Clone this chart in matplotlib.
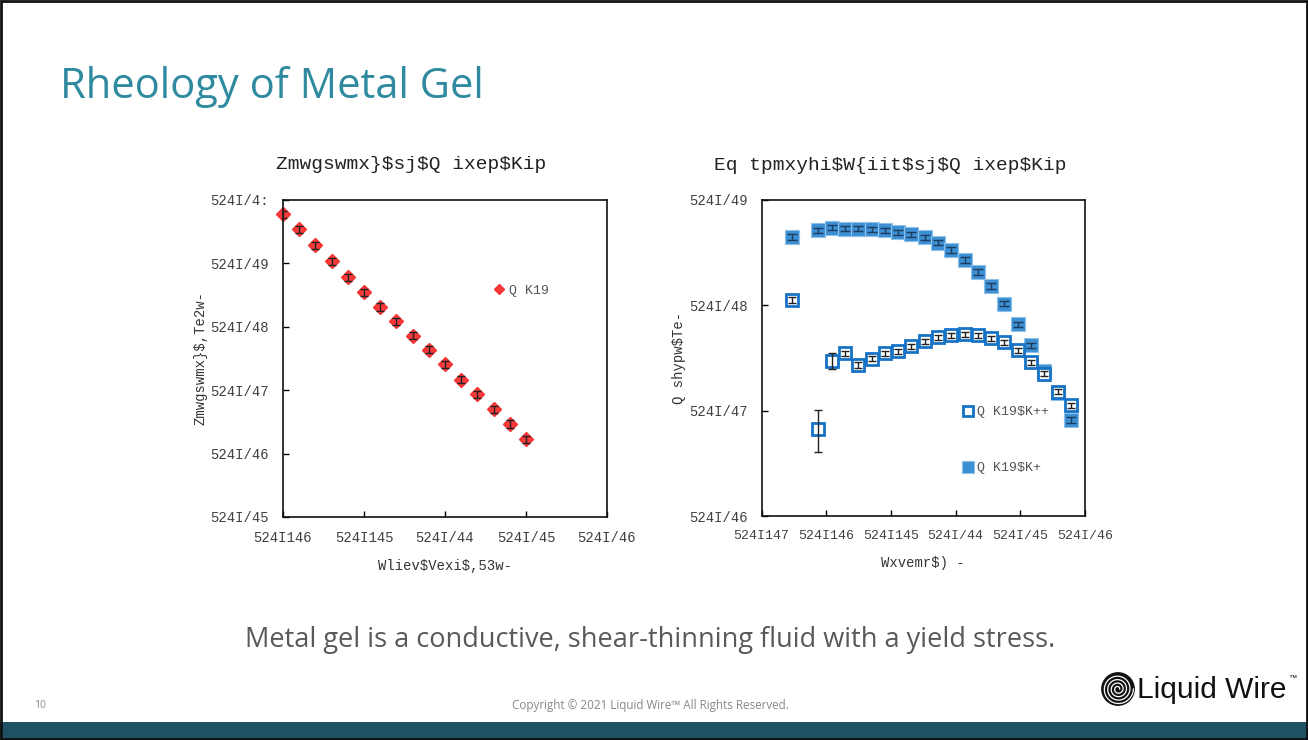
import numpy as np
import matplotlib
matplotlib.use("Agg")
import matplotlib.pyplot as plt
from matplotlib.patches import Rectangle

plt.rcParams["text.parse_math"] = False

# ---------------- data ----------------
# Left chart: viscosity vs shear rate
shear_rate = [0.01, 0.0158, 0.0251, 0.0398, 0.0631, 0.1, 0.158, 0.251, 0.398,
              0.631, 1.0, 1.58, 2.51, 3.98, 6.31, 10.0]
viscosity = [594000, 348000, 195000, 108000, 60800, 35200, 20700, 12300, 7290,
             4380, 2560, 1470, 860, 507, 296, 170]
visc_err = [80000, 46000, 26000, 14000, 8000, 4600, 2700, 1600, 950,
            570, 330, 190, 110, 66, 38, 22]

# Right chart: amplitude sweep
strain = [0.003, 0.0076, 0.0122, 0.0195, 0.0313, 0.0502, 0.0807, 0.129, 0.208,
          0.333, 0.535, 0.857, 1.38, 2.21, 3.55, 5.69, 9.12, 14.6, 23.5, 37.7, 60.5]
g_storage = [44700, 51800, 54500, 53300, 53300, 52600, 51400, 49600, 47400,
             44100, 39200, 33600, 27000, 20700, 15300, 10400, 6600, 4160, 2400,
             1480, 820]
g_storage_err = [3000, 3000, 3000, 3000, 3000, 3000, 3000, 2800, 2700,
                 2500, 2200, 1900, 1600, 1200, 900, 600, 400, 250, 150, 90, 55]
g_loss = [11200, 675, 2990, 3490, 2740, 3120, 3490, 3650, 4070, 4540, 4960,
          5180, 5290, 5180, 4850, 4440, 3730, 2870, 2250, 1520, 1120]
g_loss_err_lo = [700, 268, 480, 220, 180, 180, 200, 200, 220, 250, 270,
                 280, 290, 280, 270, 250, 210, 160, 130, 90, 65]
g_loss_err_hi = [700, 345, 500, 220, 180, 180, 200, 200, 220, 250, 270,
                 280, 290, 280, 270, 250, 210, 160, 130, 90, 65]

left_xticks = [0.01, 0.1, 1, 10, 100]
left_xlabels = ["524I146", "524I145", "524I/44", "524I/45", "524I/46"]
left_yticks = [1e1, 1e2, 1e3, 1e4, 1e5, 1e6]
left_ylabels = ["524I/45", "524I/46", "524I/47", "524I/48", "524I/49", "524I/4:"]
right_xticks = [0.001, 0.01, 0.1, 1, 10, 100]
right_xlabels = ["524I147", "524I146", "524I145", "524I/44", "524I/45", "524I/46"]
right_yticks = [1e2, 1e3, 1e4, 1e5]
right_ylabels = ["524I/46", "524I/47", "524I/48", "524I/49"]

left_title = "Zmwgswmx}$sj$Q ixep$Kip"
left_xlabel = "Wliev$Vexi$,53w-"
left_ylabel = "Zmwgswmx}$,Te2w-"
left_legend = "Q K19"
right_title = "Eq tpmxyhi$W{iit$sj$Q ixep$Kip"
right_xlabel = "Wxvemr$) -"
right_ylabel = "Q shypw$Te-"
legend_loss = "Q K19$K++"
legend_storage = "Q K19$K+"

# ---------------- figure ----------------
W, H = 1308, 740
fig = plt.figure(figsize=(W / 100, H / 100), dpi=100)
fig.patch.set_facecolor("white")

mono = "Liberation Mono"
tick_color = "#404040"

def ax_rect(x0, y0, x1, y1):
    return [x0 / W, 1 - y1 / H, (x1 - x0) / W, (y1 - y0) / H]

def style_axes(ax, xt, xl, yt, yl, title, title_x, xlab, ylab):
    ax.set_xscale("log")
    ax.set_yscale("log")
    ax.set_xticks(xt)
    ax.set_xticklabels(xl)
    ax.set_yticks(yt)
    ax.set_yticklabels(yl)
    ax.minorticks_off()
    ax.tick_params(direction="in", length=4, width=1, color="black",
                   labelsize=10, labelcolor=tick_color, pad=10)
    for lab in ax.get_xticklabels() + ax.get_yticklabels():
        lab.set_family(mono)
    for s in ax.spines.values():
        s.set_linewidth(1.2)
        s.set_color("#111111")
    ax.text(title_x, 1.0 + 35 / 317, title, transform=ax.transAxes,
            family=mono, fontsize=14, color="#222222", ha="center", va="center")
    ax.set_xlabel(xlab, family=mono, fontsize=10, color="#333333", labelpad=10)
    ax.set_ylabel(ylab, family=mono, fontsize=10, color="#333333", labelpad=2)

# Left chart
ax1 = fig.add_axes(ax_rect(283, 200, 607, 517))
ax1.set_xlim(0.01, 100)
ax1.set_ylim(10, 1e6)
ax1.plot(shear_rate, viscosity, linestyle="none", marker="D", markersize=7.5,
         color="#f52a2a", alpha=0.92, label=left_legend, zorder=2, clip_on=False)
ax1.errorbar(shear_rate, viscosity, yerr=visc_err, fmt="none",
             ecolor="#222222", elinewidth=1, capsize=3, zorder=3)
style_axes(ax1, left_xticks, left_xlabels, left_yticks, left_ylabels,
           left_title, 0.395, left_xlabel, left_ylabel)
leg1 = ax1.legend(loc="center left", bbox_to_anchor=(0.615, 0.713), frameon=False,
                  handlelength=0.8, handletextpad=0.3, markerscale=0.7,
                  prop={"family": mono, "size": 9.5})
for t in leg1.get_texts():
    t.set_color("#555555")

# Right chart
ax2 = fig.add_axes(ax_rect(761.5, 200, 1085, 516))
ax2.set_xlim(0.001, 100)
ax2.set_ylim(100, 1e5)
ax2.plot(strain, g_storage, linestyle="none", marker="s", markersize=10.5,
         color="#3b8fd3", markeredgecolor="#8fc0e8", markeredgewidth=0.8,
         label=legend_storage, zorder=2, clip_on=False)
ax2.errorbar(strain, g_storage, yerr=g_storage_err, fmt="none",
             ecolor="#1d3c5c", elinewidth=1, capsize=3.5, zorder=3)
ax2.plot(strain, g_loss, linestyle="none", marker="s", markersize=9,
         markerfacecolor="white", markeredgecolor="#1572c4", markeredgewidth=2,
         label=legend_loss, zorder=4, clip_on=False)
ax2.errorbar(strain, g_loss, yerr=[g_loss_err_lo, g_loss_err_hi], fmt="none",
             ecolor="#222222", elinewidth=1, capsize=3, zorder=5)
style_axes(ax2, right_xticks, right_xlabels, right_yticks, right_ylabels,
           right_title, 0.397, right_xlabel, right_ylabel)
ax2.tick_params(axis="x", labelsize=9.5)
h, l = ax2.get_legend_handles_labels()
leg2 = ax2.legend([h[1], h[0]], [l[1], l[0]], loc="upper left",
                  bbox_to_anchor=(0.585, 0.385), frameon=False, handlelength=0.8,
                  handletextpad=0.3, labelspacing=3.3, markerscale=0.8,
                  prop={"family": mono, "size": 9.5})
for t in leg2.get_texts():
    t.set_color("#555555")

# ---------------- slide decorations ----------------
fig.text(60 / W, 1 - 87 / H, "Rheology of Metal Gel", family="Open Sans",
         fontsize=30, color="#2f8aa0", va="center", ha="left")
fig.text(650 / W, 1 - 640 / H,
         "Metal gel is a conductive, shear-thinning fluid with a yield stress.",
         family="Open Sans", fontsize=19.5, color="#595959", ha="center", va="center")
fig.text(40 / W, 1 - 705 / H, "10", family="Open Sans", fontsize=7.5,
         color="#888888", ha="center", va="center")
fig.text(650 / W, 1 - 705 / H,
         "Copyright \u00a9 2021 Liquid Wire\u2122 All Rights Reserved.",
         family="Open Sans", fontsize=8.4, color="#888888", ha="center", va="center")

# bottom band
fig.add_artist(Rectangle((0, 0), 1, 18 / H, transform=fig.transFigure,
                         facecolor="#1e5262", edgecolor="none", zorder=5))
# slide border
fig.add_artist(Rectangle((0.001, 0.001), 0.998, 0.998, transform=fig.transFigure,
                         facecolor="none", edgecolor="#111111", linewidth=2, zorder=6))

# logo
lax = fig.add_axes(ax_rect(1101, 672, 1135, 706))
lax.set_xlim(-1.05, 1.05)
lax.set_ylim(-1.05, 1.05)
lax.set_aspect("equal")
lax.axis("off")
lax.add_patch(plt.Circle((0, 0), 1.0, color="#111111"))
th = np.linspace(0, 8 * np.pi, 400)
r = 0.1 + 0.85 * th / th.max()
lax.plot(r * np.cos(th), r * np.sin(th), color="white", linewidth=0.9)
fig.text(1137 / W, 1 - 690 / H, "Liquid Wire", family="Liberation Sans",
         fontsize=21.5, color="#111111", ha="left", va="center")
fig.text(1288 / W, 1 - 678 / H, "\u2122", family="Liberation Sans",
         fontsize=6, color="#111111", ha="left", va="center")

fig.savefig("out.png", dpi=100, facecolor="white")
